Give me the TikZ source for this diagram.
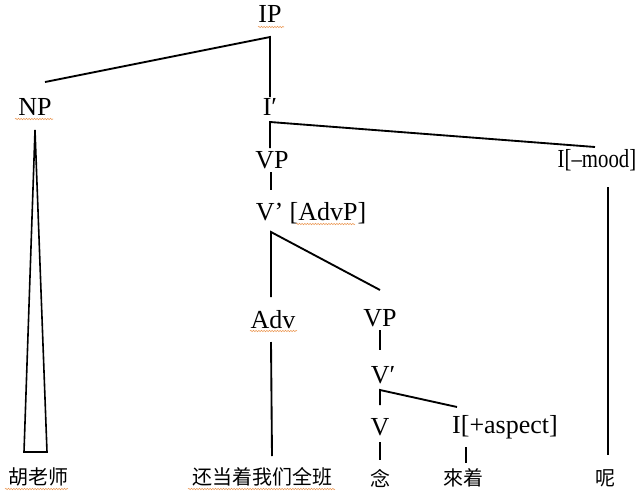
\documentclass[tikz,border=0pt]{standalone}
\usepackage{fontspec}
\setmainfont{Liberation Serif}
\newfontfamily\cjk{Noto Sans CJK SC}
\usetikzlibrary{decorations.pathmorphing}
\definecolor{spellOrange}{RGB}{235,150,80}

\begin{document}
\begin{tikzpicture}[x=0.75pt,y=-0.75pt,
    cat/.style={font=\fontsize{19.5}{22}\selectfont, inner sep=0pt},
    word/.style={font=\cjk\fontsize{15}{18}\selectfont, inner sep=0pt},
    branch/.style={line width=1.4pt},
    squiggle/.style={spellOrange, line width=0.4pt, decorate,
      decoration={snake, amplitude=0.5pt, segment length=2pt}}]
  \useasboundingbox (0,0) rectangle (643,493);

  % category labels
  \node[cat] (ip) at (270,14) {IP};
  \node[cat] (np) at (35,107) {NP};
  \node[cat] (ibar) at (270,107) {I′};
  \node[cat] (vp) at (272,160) {VP};
  \node[cat, font=\fontsize{19.5}{22}\selectfont\addfontfeatures{FakeStretch=0.8}] (imood) at (597,160) {I[–mood]};
  \node[cat] (vbar) at (311,213) {V’ [AdvP]};
  \node[cat] (adv) at (273,320) {Adv};
  \node[cat] (vpl) at (380,318) {VP};
  \node[cat] (vbarl) at (383,375) {V′};
  \node[cat] (v) at (380,427) {V};
  \node[cat] (iasp) at (505,427) {I[+aspect]};

  % words
  \node[word] (hu) at (38,477) {胡老师};
  \node[word] (hai) at (262,477) {还当着我们全班};
  \node[word] (nian) at (380,478) {念};
  \node[word] (lai) at (463,478) {來着};
  \node[word] (ne) at (605,478) {呢};

  % branch points and ends
  \coordinate (ipB) at (270,37);
  \coordinate (npT) at (45,82);
  \coordinate (ibarT) at (270,97);
  \coordinate (ibarB) at (270,122);
  \coordinate (vpT) at (270,148);
  \coordinate (imoodT) at (595,147);
  \coordinate (vpB) at (271,172);
  \coordinate (vbarT) at (271,190);
  \coordinate (vbarB) at (271,232);
  \coordinate (advT) at (271,297);
  \coordinate (vplT) at (380,290);
  \coordinate (advB) at (271,342);
  \coordinate (haiT) at (272,456);
  \coordinate (vplB) at (380,330);
  \coordinate (vbarlT) at (380,350);
  \coordinate (vbarlB) at (380,390);
  \coordinate (vT) at (380,405);
  \coordinate (iaspT) at (457,407);
  \coordinate (vB) at (380,442);
  \coordinate (nianT) at (380,460);
  \coordinate (iaspB) at (466,447);
  \coordinate (laiT) at (466,463);
  \coordinate (imoodB) at (608,187);
  \coordinate (neT) at (608,455);

  \draw[branch] (npT) -- (ipB) -- (ibarT);
  \draw[branch] (vpT) -- (ibarB) -- (imoodT);
  \draw[branch] (vpB) -- (vbarT);
  \draw[branch] (advT) -- (vbarB) -- (vplT);
  \draw[branch] (advB) -- (haiT);
  \draw[branch] (vplB) -- (vbarlT);
  \draw[branch] (vT) -- (vbarlB) -- (iaspT);
  \draw[branch] (vB) -- (nianT);
  \draw[branch] (iaspB) -- (laiT);
  \draw[branch] (imoodB) -- (neT);

  % triangle over the NP
  \draw[line width=1.2pt] (35,130) -- (24,452) -- (47,452) -- cycle;

  % spell-check marks
  \draw[squiggle] (258,27) -- (284,27);
  \draw[squiggle] (15,119) -- (53,119);
  \draw[squiggle] (296,224) -- (355,224);
  \draw[squiggle] (250,331) -- (297,331);
  \draw[squiggle] (5,489) -- (68,489);
  \draw[squiggle] (188,489) -- (335,489);
\end{tikzpicture}
\end{document}
